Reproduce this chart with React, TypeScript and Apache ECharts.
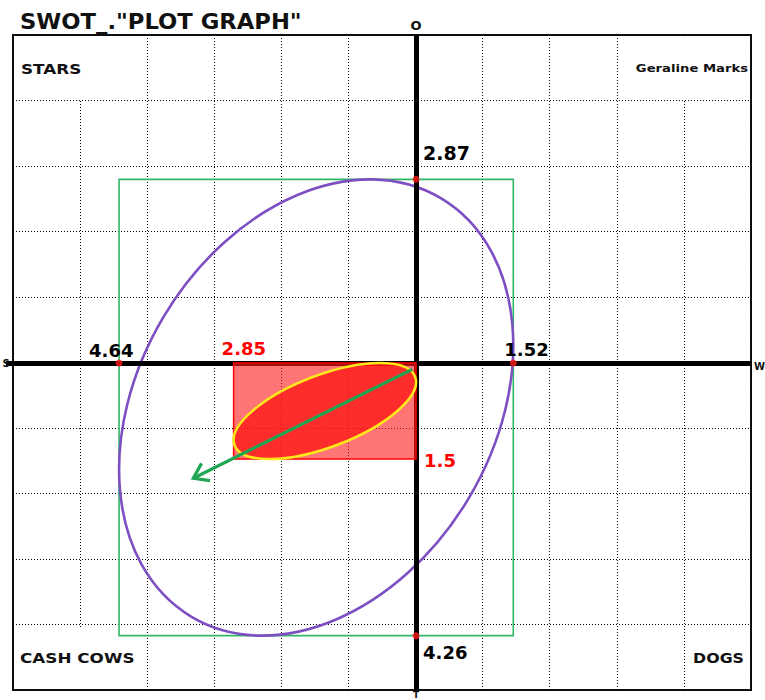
import React, { useEffect, useRef } from 'react';
import * as echarts from 'echarts';

// ---------- data ----------
const titleText = 'SWOT_."PLOT GRAPH"';
const quadrantNames = ['STARS', 'Geraline Marks', 'CASH COWS', 'DOGS'];
const axisNames = ['S', 'W', 'O', 'T'];

// grid (dotted lines) axis ranges, one line per unit
const gridXRange = [-6, 5];
const gridYRange = [-5, 5];
// value axes used by the marks
const dataXRange = [-6.297, 5.234];
const dataYRange = [-5.109, 5.125];

// outer box (S, W extents on x; T, O extents on y)
const boxX = [-4.64, 1.52];
const boxY = [-4.26, 2.87];
const boxLabels = ['4.64', '1.52', '2.87', '4.26'];
const boxTopTouchX = -0.72; // where the purple ellipse touches the box top

// focus rectangle
const focusX = [-2.85, 0];
const focusY = [-1.5, 0];
const focusLabels = ['2.85', '1.5'];
const focusTopTouchX = -0.56;

// direction arrow
const arrowFrom = [-0.06, -0.1];
const arrowTo = [-3.48, -1.8];

// ---------- helpers ----------
const FONT = 'DejaVu Sans';

function ellipseRenderer(style: any) {
  return (params: any, api: any) => {
    const x0 = api.value(0), x1 = api.value(1), y0 = api.value(2), y1 = api.value(3), tx = api.value(4);
    const pMin = api.coord([x0, y0]);
    const pMax = api.coord([x1, y1]);
    const pTop = api.coord([tx, y1]);
    const cx = (pMin[0] + pMax[0]) / 2;
    const cy = (pMin[1] + pMax[1]) / 2;
    const W = Math.abs(pMax[0] - pMin[0]) / 2;
    const H = Math.abs(pMin[1] - pMax[1]) / 2;
    const c = (pTop[0] - cx) * H;
    const mean = (W * W + H * H) / 2;
    const d = Math.sqrt(((W * W - H * H) / 2) ** 2 + c * c);
    const a = Math.sqrt(mean + d);
    const b = Math.sqrt(Math.max(mean - d, 0));
    const theta = 0.5 * Math.atan2(2 * c, W * W - H * H);
    return {
      type: 'ellipse',
      x: cx,
      y: cy,
      rotation: theta,
      shape: { cx: 0, cy: 0, rx: a, ry: b },
      style,
    };
  };
}

function rectRenderer(style: any) {
  return (params: any, api: any) => {
    const p1 = api.coord([api.value(0), api.value(3)]);
    const p2 = api.coord([api.value(1), api.value(2)]);
    return {
      type: 'rect',
      shape: { x: p1[0], y: p1[1], width: p2[0] - p1[0], height: p2[1] - p1[1] },
      style,
    };
  };
}

function arrowRenderer(params: any, api: any) {
  const p0 = api.coord([api.value(0), api.value(1)]);
  const p1 = api.coord([api.value(2), api.value(3)]);
  const ang = Math.atan2(p1[1] - p0[1], p1[0] - p0[0]);
  const L = 17;
  const spread = 0.6;
  const h1 = [p1[0] - L * Math.cos(ang - spread), p1[1] - L * Math.sin(ang - spread)];
  const h2 = [p1[0] - L * Math.cos(ang + spread), p1[1] - L * Math.sin(ang + spread)];
  const stroke = '#1fa653';
  return {
    type: 'group',
    children: [
      { type: 'line', shape: { x1: p0[0], y1: p0[1], x2: p1[0], y2: p1[1] }, style: { stroke, lineWidth: 3.2 } },
      { type: 'polyline', shape: { points: [h1, p1, h2] }, style: { stroke, lineWidth: 3.2, fill: 'none' } },
    ],
  };
}

const numLabel = (color: string, size: number, offset: number[]) => ({
  show: true,
  position: 'inside',
  align: 'left',
  verticalAlign: 'top',
  offset,
  color,
  textBorderWidth: 0,
  textBorderColor: 'transparent',
  opacity: 1,
  fontFamily: FONT,
  fontWeight: 'bold',
  fontSize: size,
});

export default function App() {
  const ref = useRef<HTMLDivElement>(null);

  useEffect(() => {
    if (!ref.current) return;
    const chart = echarts.init(ref.current, undefined, { renderer: 'svg' });

    const boxPoints = [
      { value: [boxX[0], 0], label: numLabel('#000', 18, [-30, -22]), name: boxLabels[0] },
      { value: [boxX[1], 0], label: numLabel('#000', 18, [-9, -23]), name: boxLabels[1] },
      { value: [0, boxY[1]], label: numLabel('#000', 19, [7, -36]), name: boxLabels[2] },
      { value: [0, boxY[0]], label: numLabel('#000', 18, [7, 8]), name: boxLabels[3] },
    ];
    const focusPoints = [
      { value: [focusX[0], 0], label: numLabel('#ff0000', 18, [-12, -24]), name: focusLabels[0] },
      { value: [0, focusY[0]], label: numLabel('#ff0000', 18, [8, -8]), name: focusLabels[1] },
    ];

    const gridLine = { show: true, lineStyle: { color: '#000', width: 1, type: [1, 2] } };
    const hidden = { show: false };

    const option: any = {
      animation: false,
      backgroundColor: '#fff',
      grid: {
        left: 13, right: 14, top: 35, bottom: 10,
        show: true, borderColor: '#111', borderWidth: 2, backgroundColor: '#fff',
      },
      xAxis: [
        {
          type: 'value', min: gridXRange[0], max: gridXRange[1], interval: 1,
          axisLine: hidden, axisTick: hidden, axisLabel: hidden, splitLine: gridLine,
        },
        { type: 'value', min: dataXRange[0], max: dataXRange[1], show: false, splitLine: hidden },
      ],
      yAxis: [
        {
          type: 'value', min: gridYRange[0], max: gridYRange[1], interval: 1,
          axisLine: hidden, axisTick: hidden, axisLabel: hidden, splitLine: gridLine,
        },
        { type: 'value', min: dataYRange[0], max: dataYRange[1], show: false, splitLine: hidden },
      ],
      graphic: [
        { type: 'rect', z: 1, silent: true, shape: { x: 15, y: 36, width: 131, height: 63 }, style: { fill: '#fff' } },
        { type: 'rect', z: 1, silent: true, shape: { x: 621, y: 36, width: 129, height: 63 }, style: { fill: '#fff' } },
        { type: 'rect', z: 1, silent: true, shape: { x: 15, y: 627, width: 131, height: 62 }, style: { fill: '#fff' } },
        { type: 'rect', z: 1, silent: true, shape: { x: 6, y: 361, width: 8, height: 5 }, style: { fill: '#000' } },
        {
          type: 'text', z: 10, x: 20, y: 22, scaleX: 1.08,
          style: { text: titleText, fill: '#111', fontFamily: FONT, fontWeight: 'bold', fontSize: 21, align: 'left', verticalAlign: 'middle' },
        },
        {
          type: 'text', z: 10, x: 21, y: 69, scaleX: 1.2,
          style: { text: quadrantNames[0], fill: '#111', fontFamily: FONT, fontWeight: 'bold', fontSize: 14, align: 'left', verticalAlign: 'middle' },
        },
        {
          type: 'text', z: 10, x: 748, y: 68, scaleX: 1.2,
          style: { text: quadrantNames[1], fill: '#111', fontFamily: FONT, fontWeight: 'bold', fontSize: 11, align: 'right', verticalAlign: 'middle' },
        },
        {
          type: 'text', z: 10, x: 20, y: 658, scaleX: 1.2,
          style: { text: quadrantNames[2], fill: '#111', fontFamily: FONT, fontWeight: 'bold', fontSize: 14, align: 'left', verticalAlign: 'middle' },
        },
        {
          type: 'text', z: 10, x: 744, y: 658, scaleX: 1.13,
          style: { text: quadrantNames[3], fill: '#111', fontFamily: FONT, fontWeight: 'bold', fontSize: 14, align: 'right', verticalAlign: 'middle' },
        },
        {
          type: 'text', z: 10, x: 6, y: 363,
          style: { text: axisNames[0], fill: '#111', fontFamily: FONT, fontWeight: 'bold', fontSize: 10, align: 'center', verticalAlign: 'middle' },
        },
        {
          type: 'text', z: 10, x: 754, y: 366,
          style: { text: axisNames[1], fill: '#111', fontFamily: FONT, fontWeight: 'bold', fontSize: 10, align: 'left', verticalAlign: 'middle' },
        },
        {
          type: 'text', z: 10, x: 416, y: 25,
          style: { text: axisNames[2], fill: '#111', fontFamily: FONT, fontWeight: 'bold', fontSize: 13, align: 'center', verticalAlign: 'middle' },
        },
        {
          type: 'text', z: 10, x: 416, y: 695,
          style: { text: axisNames[3], fill: '#111', fontFamily: FONT, fontWeight: 'bold', fontSize: 9, align: 'center', verticalAlign: 'middle' },
        },
      ],
      series: [
        {
          type: 'line', xAxisIndex: 1, yAxisIndex: 1, data: [], z: 1, silent: true,
          markLine: {
            silent: true, symbol: 'none', label: { show: false },
            lineStyle: { color: '#000', width: 5, type: 'solid' },
            data: [{ xAxis: 0 }, { yAxis: 0 }],
          },
        },
        {
          type: 'custom', xAxisIndex: 1, yAxisIndex: 1, z: 3, silent: true,
          renderItem: rectRenderer({ fill: 'none', stroke: '#2fb866', lineWidth: 1.6 }),
          data: [[boxX[0], boxX[1], boxY[0], boxY[1]]],
        },
        {
          type: 'custom', xAxisIndex: 1, yAxisIndex: 1, z: 4, silent: true,
          renderItem: ellipseRenderer({ fill: 'none', stroke: '#7d4fc2', lineWidth: 2.6 }),
          data: [[boxX[0], boxX[1], boxY[0], boxY[1], boxTopTouchX]],
        },
        {
          type: 'custom', xAxisIndex: 1, yAxisIndex: 1, z: 5, silent: true,
          renderItem: rectRenderer({ fill: 'rgba(255,30,30,0.62)', stroke: '#f00', lineWidth: 1.5 }),
          data: [[focusX[0], focusX[1], focusY[0], focusY[1]]],
        },
        {
          type: 'custom', xAxisIndex: 1, yAxisIndex: 1, z: 6, silent: true,
          renderItem: ellipseRenderer({ fill: 'rgba(255,20,20,0.75)', stroke: '#ffe81a', lineWidth: 2.6 }),
          data: [[focusX[0], focusX[1], focusY[0], focusY[1], focusTopTouchX]],
        },
        {
          type: 'custom', xAxisIndex: 1, yAxisIndex: 1, z: 7, silent: true,
          renderItem: arrowRenderer,
          data: [[arrowFrom[0], arrowFrom[1], arrowTo[0], arrowTo[1]]],
        },
        {
          type: 'scatter', xAxisIndex: 1, yAxisIndex: 1, z: 8, silent: true,
          symbolSize: 7,
          itemStyle: { color: '#ff1a1a' },
          label: { formatter: (p: any) => p.name },
          data: boxPoints,
        },
        {
          type: 'scatter', xAxisIndex: 1, yAxisIndex: 1, z: 8, silent: true,
          symbolSize: 0,
          itemStyle: { color: '#ff1a1a' },
          label: { formatter: (p: any) => p.name },
          data: focusPoints,
        },
      ],
    };

    chart.setOption(option);
    return () => chart.dispose();
  }, []);

  return (
    <div
      ref={ref}
      style={{ position: 'fixed', left: 0, top: 0, width: 765, height: 700, background: '#fff' }}
    />
  );
}
